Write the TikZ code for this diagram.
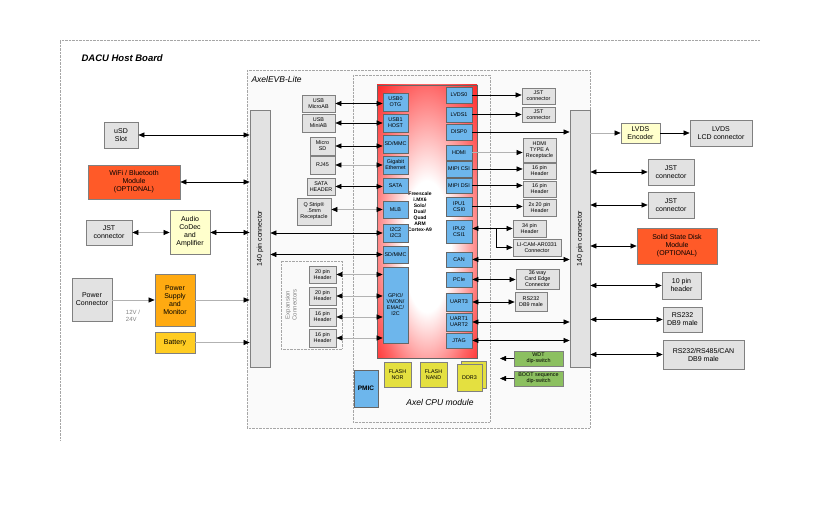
\documentclass[tikz,border=0pt]{standalone}
\usepackage{fontspec}
\setmainfont{Liberation Sans}
\usetikzlibrary{arrows.meta,shadings}
\definecolor{gbox}{HTML}{E2E2E2}
\definecolor{gline}{HTML}{808080}
\definecolor{bl}{HTML}{6DB6EC}
\definecolor{orr}{HTML}{FF5A28}
\definecolor{lyel}{HTML}{FFFFCC}
\definecolor{psup}{HTML}{FFAA11}
\definecolor{batt}{HTML}{FFCC22}
\definecolor{flash}{HTML}{E4E040}
\definecolor{grn}{HTML}{8CC060}
\pgfdeclareradialshading{cpush}{\pgfpoint{0bp}{-6bp}}{color(0bp)=(white); color(12bp)=(white); color(28bp)=(red!60!white); color(42bp)=(red); color(50bp)=(red)}
\tikzset{
 base/.style={draw=gline,line width=0.8pt,align=center,inner sep=0pt,font=\fontsize{5.4}{6}\selectfont},
 gb/.style={base,fill=gbox},
 bb/.style={base,fill=bl,draw=gray!80!black},
 ob/.style={base,fill=orr,font=\fontsize{7}{8}\selectfont},
 big/.style={font=\fontsize{7}{8}\selectfont},
 ar/.style={-{Triangle[length=6pt,width=5pt]},line width=0.5pt},
 dar/.style={{Triangle[length=6pt,width=5pt]}-{Triangle[length=6pt,width=5pt]},line width=0.5pt},
 gar/.style={ar,draw=gray!60,-{Triangle[length=6pt,width=5pt,black]}},
 gdar/.style={dar,draw=gray!60,{Triangle[length=6pt,width=5pt,black]}-{Triangle[length=6pt,width=5pt,black]}},
}
\newcommand\bx[7]{\node[#1,minimum width={(#5-#3)*1pt},minimum height={(#6-#4)*1pt}] (#2) at ({(#3+#5)/2},{(#4+#6)/2}) {#7};}
\begin{document}
\begin{tikzpicture}[x=1pt,y=-1pt]
\useasboundingbox[fill=white] (0,0) rectangle (820,526);
% frames
\draw[densely dotted,gray!70] (60,440) -- (60,40) -- (760,40);
\node[anchor=west,font=\bfseries\itshape\fontsize{9.5}{10}\selectfont] (t1) at (78,58) {DACU Host Board};
\draw[densely dotted,gray!70,fill=gray!4] (247,70) rectangle (590,428);
\node[anchor=west,font=\itshape\fontsize{8.5}{9}\selectfont] (t2) at (248,79) {AxelEVB-Lite};
\draw[densely dotted,gray!70] (353,75) rectangle (490,422);
\node[font=\itshape\fontsize{8.5}{9}\selectfont] (t3) at (440,402) {Axel CPU module};
% connectors 140
\bx{gb}{lc}{250}{110}{270}{367}{}
\node[rotate=90,big] at (lc) {140 pin connector};
\bx{gb}{rc}{570}{110}{590}{367}{}
\node[rotate=90,big] at (rc) {140 pin connector};
% CPU
\node[draw=gray!80!black,line width=0.8pt,minimum width=100pt,minimum height=273pt,shading=cpush] (cpu) at (427,221.5) {};
\node[align=center,font=\bfseries\fontsize{5}{6}\selectfont] (soc) at (420,212) {Freescale\\i.MX6\\Solo/\\Dual/\\Quad\\ARM\\Cortex-A9};
% left blue
\bx{bb}{usb0}{383}{93}{408}{111}{USB0\\OTG}
\bx{bb}{usb1}{383}{114}{408}{132}{USB1\\HOST}
\bx{bb}{sd1}{383}{135}{408}{153}{SD/MMC}
\bx{bb}{geth}{383}{156}{408}{174}{Gigabit\\Ethernet}
\bx{bb}{sata}{383}{178}{408}{193}{SATA}
\bx{bb}{mlb}{383}{201}{408}{218}{MLB}
\bx{bb}{i2c}{383}{224}{408}{242}{I2C2\\I2C3}
\bx{bb}{sd2}{383}{246}{408}{263}{SD/MMC}
\bx{bb}{gpio}{383}{267}{408}{343}{GPIO/\\VMON/\\EMAC/\\I2C}
% right blue
\bx{bb}{lvds0}{446}{87}{472}{103}{LVDS0}
\bx{bb}{lvds1}{446}{107}{472}{122}{LVDS1}
\bx{bb}{disp}{446}{124}{472}{140}{DISP0}
\bx{bb}{hdmi}{446}{145}{472}{160}{HDMI}
\bx{bb}{mcsi}{446}{161}{472}{177}{MIPI CSI}
\bx{bb}{mdsi}{446}{178}{472}{193}{MIPI DSI}
\bx{bb}{ipu1}{446}{197}{472}{216}{IPU1\\CSI0}
\bx{bb}{ipu2}{446}{220}{472}{243}{IPU2\\CSI1}
\bx{bb}{can}{446}{252}{472}{267}{CAN}
\bx{bb}{pcie}{446}{272}{472}{287}{PCIe}
\bx{bb}{uart3}{446}{293}{472}{311}{UART3}
\bx{bb}{uart12}{446}{313}{472}{331}{UART1\\UART2}
\bx{bb}{jtag}{446}{333}{472}{348}{JTAG}
% left small gray
\bx{gb}{umicro}{302}{95}{335}{112}{USB\\MicroAB}
\bx{gb}{umini}{302}{114}{335}{132}{USB\\MiniAB}
\bx{gb}{msd}{310}{137}{335}{155}{Micro\\SD}
\bx{gb}{rj}{310}{156}{335}{174}{RJ45}
\bx{gb}{sath}{307}{178}{335}{195}{SATA\\HEADER}
\bx{gb}{qs}{297}{198}{331}{225}{Q Strip®\\.5mm\\Receptacle}
\draw[densely dotted,gray!70] (281,261) rectangle (342,349);
\node[rotate=90,align=center,text=gray,font=\fontsize{6}{7}\selectfont] (exp) at (291,305) {Expansion\\Connectors};
\bx{gb}{h1}{309}{266}{336}{283}{20 pin\\Header}
\bx{gb}{h2}{309}{287}{336}{305}{20 pin\\Header}
\bx{gb}{h3}{309}{308}{336}{326}{16 pin\\Header}
\bx{gb}{h4}{309}{329}{336}{347}{16 pin\\Header}
% right small gray
\bx{gb}{jst1}{522}{88}{555}{104}{JST\\connector}
\bx{gb}{jst2}{522}{107}{555}{122}{JST\\connector}
\bx{gb}{hdc}{523}{138}{556}{162}{HDMI\\TYPE A\\Receptacle}
\bx{gb}{h16a}{523}{163}{556}{179}{16 pin\\Header}
\bx{gb}{h16b}{523}{181}{556}{197}{16 pin\\Header}
\bx{gb}{h2x}{523}{199}{556}{216}{2x 20 pin\\Header}
\bx{gb}{h34}{513}{220}{546}{237}{34 pin\\Header}
\bx{gb}{licam}{513}{239}{561}{256}{LI-CAM-AR0331\\Connector}
\bx{gb}{card}{516}{269}{559}{289}{36 way\\Card Edge\\Connector}
\bx{gb}{rs1}{515}{292}{547}{311}{RS232\\DB9 male}
\bx{base,fill=grn}{wdt}{514}{351}{563}{366}{WDT\\dip-switch}
\bx{base,fill=grn}{boot}{514}{371}{563}{386}{BOOT sequence\\dip-switch}
% bottom
\bx{bb}{pmic}{354}{370}{378}{407}{\bfseries\fontsize{6.5}{7}\selectfont PMIC}
\bx{base,fill=flash}{nor}{384}{362}{411}{387}{FLASH\\NOR}
\bx{base,fill=flash}{nand}{420}{362}{447}{387}{FLASH\\NAND}
\bx{base,fill=flash}{ddrb}{461}{361}{486}{388}{}
\bx{base,fill=flash}{ddr}{457}{364}{482}{391}{DDR3}
% left outside
\bx{gb,big}{usd}{104}{122}{138}{148}{uSD\\Slot}
\bx{ob}{wifi}{88}{165}{180}{199}{WiFi / Bluetooth\\Module\\(OPTIONAL)}
\bx{gb,big}{jstl}{86}{220}{132}{245}{JST\\connector}
\bx{base,fill=lyel,big}{audio}{170}{210}{210}{254}{Audio\\CoDec\\and\\Amplifier}
\bx{gb,big}{pwc}{72}{278}{112}{321}{Power\\Connector}
\bx{base,fill=psup,big}{psu}{155}{274}{195}{326}{Power\\Supply\\and\\Monitor}
\bx{base,fill=batt,big}{bat}{155}{332}{195}{353}{Battery}
\node[align=left,text=gray,font=\fontsize{6}{7}\selectfont] (v) at (133,316) {12V /\\24V};
% right outside
\bx{base,fill=lyel,big}{enc}{621}{123}{660}{143}{LVDS\\Encoder}
\bx{gb,big}{lcd}{690}{120}{752}{146}{LVDS\\LCD connector}
\bx{gb,big}{jstr1}{648}{159}{694}{185}{JST\\connector}
\bx{gb,big}{jstr2}{648}{192}{694}{218}{JST\\connector}
\bx{ob}{ssd}{637}{228}{717}{264}{Solid State Disk\\Module\\(OPTIONAL)}
\bx{gb,big}{ten}{662}{272}{701}{299}{10 pin\\header}
\bx{gb,big}{rs2}{663}{307}{702}{332}{RS232\\DB9 male}
\bx{gb,big}{rs3}{663}{340}{744}{369}{RS232/RS485/CAN\\DB9 male}
% left arrows
\draw[dar] (usd.east) -- (usd.east -| lc.west);
\draw[dar] (wifi.east) -- (wifi.east -| lc.west);
\draw[gdar] (jstl.east) -- (audio.west |- jstl.east);
\draw[dar] (audio.east |- jstl.east) -- (lc.west |- jstl.east);
\draw[gar] (pwc.east |- psu.west) -- (psu.west);
\draw[gar] (psu.east) -- (psu.east -| lc.west);
\draw[gar] (bat.east) -- (bat.east -| lc.west);
\draw[dar] (lc.east |- i2c.west) -- (i2c.west);
\draw[dar] (lc.east |- sd2.west) -- (sd2.west);
\foreach \a/\b in {umicro/usb0,umini/usb1,msd/sd1,sath/sata}
  \draw[dar] (\a.east) -- (\a.east -| \b.west);
\draw[gdar] (rj.east |- geth.west) -- (geth.west);
\draw[gdar] (qs.east |- mlb.west) -- (mlb.west);
\foreach \a in {h1,h2,h3,h4}
  \draw[gdar] (\a.east) -- (\a.east -| gpio.west);
% cpu right arrows
\draw[ar] (lvds0.east) -- (lvds0.east -| jst1.west);
\draw[ar] (lvds1.east) -- (lvds1.east -| jst2.west);
\draw[ar] (disp.east) -- (disp.east -| rc.west);
\draw[gar] (hdmi.east) -- (hdmi.east -| hdc.west);
\draw[ar] (mcsi.east) -- (mcsi.east -| h16a.west);
\draw[ar] (mdsi.east) -- (mdsi.east -| h16b.west);
\draw[ar] (ipu1.east) -- (ipu1.east -| h2x.west);
\draw[dar] (ipu2.east |- h34.west) -- (h34.west);
\coordinate (j) at (496,228.5);
\draw[ar] (j) |- (licam.west);
\draw[dar] (can.east) -- (can.east -| rc.west);
\draw[dar] (pcie.east) -- (pcie.east -| card.west);
\draw[dar] (uart3.east) -- (uart3.east -| rs1.west);
\draw[dar] (uart12.east) -- (uart12.east -| rc.west);
\draw[dar] (jtag.east) -- (jtag.east -| rc.west);
\coordinate (w) at (500,358.5);
\coordinate (b) at (500,378.5);
\draw[ar] (wdt.west) -- (w);
\draw[ar] (boot.west) -- (b);
% right conn arrows
\draw[gar] (rc.east |- enc.west) -- (enc.west);
\draw[ar] (enc.east) -- (enc.east -| lcd.west);
\foreach \a in {jstr1,jstr2,ssd,ten,rs2,rs3}
  \draw[dar] (rc.east |- \a.west) -- (\a.west);
\end{tikzpicture}
\end{document}
